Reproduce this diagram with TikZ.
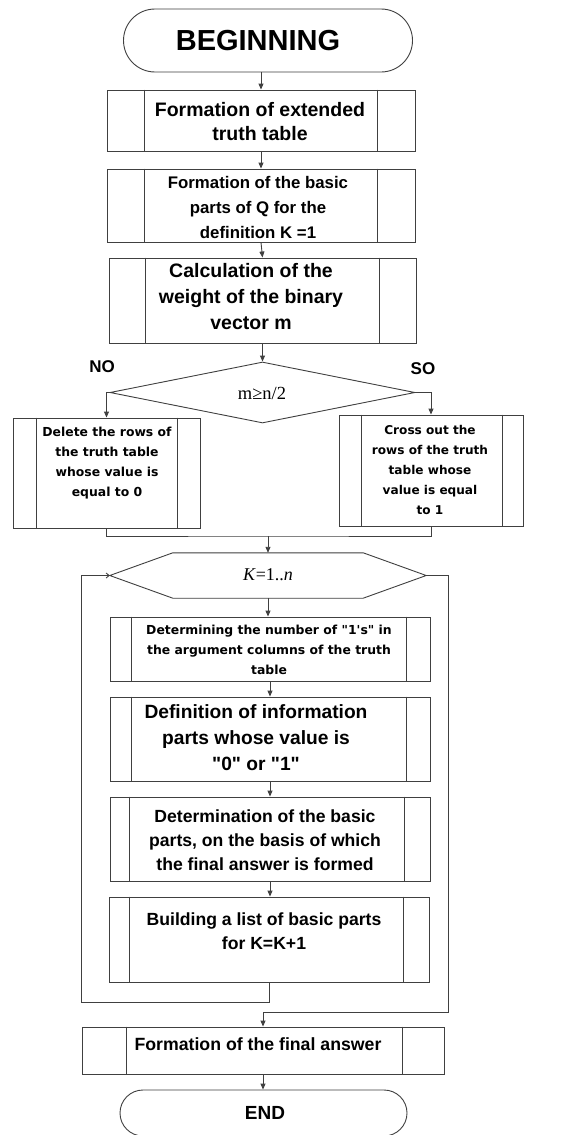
\documentclass[tikz,border=0pt]{standalone}
\usepackage{fontspec}
\setmainfont{Liberation Sans}
\newfontfamily\wide{DejaVu Sans}
\newfontfamily\serif{Liberation Serif}
\usetikzlibrary{arrows.meta,shapes.geometric,shapes.misc}
\tikzset{
  ln/.style={draw=black!75, line width=0.9pt},
  arr/.style={ln, -{Triangle[length=6pt,width=5pt]}},
  larr/.style={ln, -{Straight Barb[length=3pt,width=5pt]}},
  sub/.style={ln, rectangle, inner sep=0pt},
  term/.style={ln, rounded rectangle, inner sep=0pt},
  txt/.style={align=center, inner sep=0pt, font=\bfseries},
}
\newcommand{\fs}[2]{\fontsize{#1}{#2}\selectfont}
\newcommand{\qq}{\textquotedbl}
\newcommand{\subl}[3]{\draw[ln] ([xshift=#2]#1.north west) -- ([xshift=#2]#1.south west);
  \draw[ln] ([xshift=-#3]#1.north east) -- ([xshift=-#3]#1.south east);}
\begin{document}
\begin{tikzpicture}[x=1pt,y=-1pt]
\useasboundingbox (0,0) rectangle (583,1135);
\fill[white] (0,0) rectangle (583,1135);

% terminals
\node[term, minimum width=289, minimum height=63] (begin) at (268,40.5) {};
\node[txt, font=\bfseries\fs{29}{32}] (tbegin) at (258,41) {BEGINNING};

% box 1
\node[sub, minimum width=308, minimum height=61] (b1) at (261,120.5) {};
\subl{b1}{38}{38}
\node[txt, font=\bfseries\fs{19.5}{24}] (t1) at (260,122) {Formation of extended\\truth table};

% box 2
\node[sub, minimum width=308, minimum height=73] (b2) at (261,205.5) {};
\subl{b2}{38}{38}
\node[txt, font=\bfseries\fs{16.8}{25}] (t2) at (258,207) {Formation of the basic\\parts of Q for the\\definition K =1};

% box 3
\node[sub, minimum width=307, minimum height=85] (b3) at (262.5,300.5) {};
\subl{b3}{37}{37}
\node[txt, font=\bfseries\fs{19.5}{26}] (t3) at (251,297) {Calculation of the\\weight of the binary\\vector m};

% decision
\node[ln, diamond, minimum width=305, minimum height=61, inner sep=0pt] (dia) at (262.5,392.5) {};
\node[font=\serif\fs{18.5}{20}, inner sep=0pt] (tdia) at (262,393) {m≥n/2};
\node[txt, font=\bfseries\fs{17}{20}] (no) at (102,367) {NO};
\node[txt, font=\bfseries\fs{17}{20}] (so) at (423,369) {SO};

% box 4
\node[sub, minimum width=187, minimum height=110] (b4) at (106.5,473) {};
\subl{b4}{24}{23}
\node[txt, font=\wide\bfseries\fs{12.4}{20}] (t4) at (107,463) {Delete the rows of\\the truth table\\whose value is\\equal to 0};

% box 5
\node[sub, minimum width=184, minimum height=111] (b5) at (431,470.5) {};
\subl{b5}{23}{21}
\node[txt, font=\wide\bfseries\fs{12.1}{20}] (t5) at (430,470) {Cross out the\\rows of the truth\\table whose\\value is equal\\to 1};

% loop hexagon
\node[minimum width=316, minimum height=45, inner sep=0pt] (hex) at (268,575.5) {};
\draw[ln] (hex.west) -- ([xshift=63]hex.north west) -- ([xshift=-63]hex.north east) -- (hex.east)
  -- ([xshift=-63]hex.south east) -- ([xshift=63]hex.south west) -- cycle;
\node[font=\serif\fs{18}{20}, inner sep=0pt] (thex) at (268,575) {\textit{K}=1..\textit{n}};

% box 6
\node[sub, minimum width=320, minimum height=64] (b6) at (270,649) {};
\subl{b6}{22}{24}
\node[txt, font=\wide\bfseries\fs{12.4}{20}] (t6) at (269,650) {Determining the number of "1's" in\\the argument columns of the truth\\table};

% box 7
\node[sub, minimum width=320, minimum height=84] (b7) at (270,739) {};
\subl{b7}{22}{24}
\node[txt, font=\bfseries\fs{19.2}{26}] (t7) at (256,738) {Definition of information\\parts whose value is\\\qq0\qq{} or \qq1\qq};

% box 8
\node[sub, minimum width=320, minimum height=84] (b8) at (270,839) {};
\subl{b8}{20}{26}
\node[txt, font=\bfseries\fs{17.6}{24}] (t8) at (265,840) {Determination of the basic\\parts, on the basis of which\\the final answer is formed};

% box 9
\node[sub, minimum width=320, minimum height=85] (b9) at (269,939.5) {};
\subl{b9}{21}{26}
\node[txt, font=\bfseries\fs{17.6}{24}] (t9) at (264,931) {Building a list of basic parts\\for K=K+1};

% box 10
\node[sub, minimum width=362, minimum height=47] (b10) at (263,1050.5) {};
\subl{b10}{45}{42}
\node[txt, font=\bfseries\fs{17.7}{20}] (t10) at (258,1044) {Formation of the final answer};

% end
\node[term, minimum width=287, minimum height=46] (end) at (263.5,1113) {};
\node[txt, font=\bfseries\fs{19}{22}] (tend) at (265,1113) {END};

% connectors
\draw[arr] (b1.north |- begin.south) -- (b1.north);
\draw[arr] (b1.south) -- (b2.north);
\draw[arr] (b2.south) -- (b3.north);
\draw[arr] (b3.south) -- (b3.south |- dia.north);
\draw[arr] (dia.west) -| (b4.north);
\draw[arr] (dia.east) -| (b5.north);
\coordinate (mrg) at (hex.north |- 0,536);
\draw[ln] (b4.south) |- (mrg) -| (b5.south);
\draw[arr] (mrg) -- (hex.north);
\draw[arr] (hex.south) -- (hex.south |- b6.north);
\draw[arr] (b6.south) -- (b6.south |- b7.north);
\draw[arr] (b7.south) -- (b7.south |- b8.north);
\draw[arr] (b8.south) -- (b8.south |- b9.north);
\coordinate (lpL) at (81,1002);
\draw[larr] (b9.south) |- (lpL) |- (hex.west);
\coordinate (lpR) at (448,1012);
\draw[arr] (hex.east) -| (lpR) -| (b10.north);
\draw[arr] (b10.south) -- (b10.south |- end.north);
\end{tikzpicture}
\end{document}
